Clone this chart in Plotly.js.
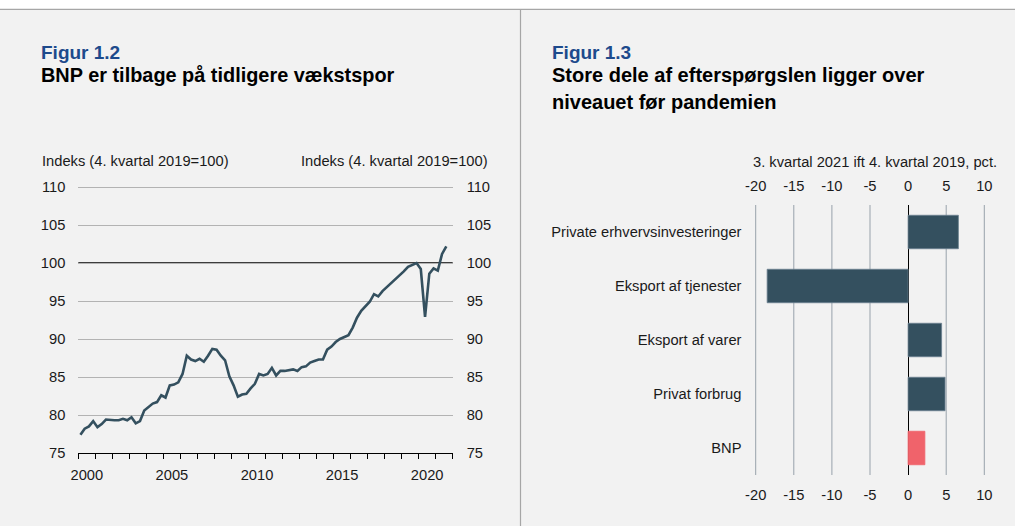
<!DOCTYPE html>
<html>
<head>
<meta charset="utf-8">
<script src="https://cdn.plot.ly/plotly-3.0.1.min.js"></script>
<style>
  html, body { margin: 0; padding: 0; background: #ffffff; }
  #chart { width: 1015px; height: 526px; }
</style>
</head>
<body>
<div id="chart"></div>
<script>
// Figur 1.2 - BNP, indeks (4. kvartal 2019=100), kvartaler 2000K1-2021K3
const startYear = 2000;
const bnp = [
  77.4, 78.2, 78.5, 79.2,   // 2000
  78.4, 78.8, 79.4, 79.3,   // 2001
  79.3, 79.3, 79.5, 79.3,   // 2002
  79.7, 78.9, 79.2, 80.6,   // 2003
  81.0, 81.5, 81.7, 82.6,   // 2004
  82.3, 83.9, 84.0, 84.3,   // 2005
  85.4, 87.8, 87.3, 87.1,   // 2006
  87.4, 87.0, 87.8, 88.7,   // 2007
  88.6, 87.8, 87.2, 85.1,   // 2008
  83.9, 82.4, 82.7, 82.8,   // 2009
  83.5, 84.1, 85.4, 85.2,   // 2010
  85.4, 86.2, 85.2, 85.8,   // 2011
  85.8, 85.9, 86.0, 85.8,   // 2012
  86.3, 86.4, 86.9, 87.1,   // 2013
  87.3, 87.3, 88.6, 89.0,   // 2014
  89.6, 90.0, 90.3, 90.5,   // 2015
  91.5, 92.8, 93.7, 94.3,   // 2016
  94.9, 95.9, 95.6, 96.3,   // 2017
  96.8, 97.3, 97.8, 98.3,   // 2018
  98.9, 99.5, 99.8, 100.0,  // 2019
  99.2, 92.9, 98.6, 99.3,   // 2020
  99.0, 101.2, 102.2        // 2021
];
const yearLabels = ['2000', '2005', '2010', '2015', '2020'];
const yTicks = [75, 80, 85, 90, 95, 100, 105, 110];

// Figur 1.3 - 3. kvartal 2021 ift 4. kvartal 2019, pct.
const categories = [
  'Private erhvervsinvesteringer',
  'Eksport af tjenester',
  'Eksport af varer',
  'Privat forbrug',
  'BNP'
];
const changes = [6.6, -18.5, 4.4, 4.85, 2.2];
const barTicks = [-20, -15, -10, -5, 0, 5, 10];
const barTickText = ['-20', '-15', '-10', '-5', '0', '5', '10'];

// quarter positions (middle of each quarter)
const quarterX = bnp.map((v, i) => startYear + Math.floor(i / 4) + ((i % 4) + 0.5) / 4);

const W = 1015, H = 526;
const px = x => x / W;
const py = y => 1 - y / H;

const dark = '#34505f';
const red = '#f0636b';
const font = 'Liberation Sans, Arial, sans-serif';
const bg = '#f2f2f2';
const fs = 14.7;

const lineTrace = {
  x: quarterX, y: bnp,
  type: 'scatter', mode: 'lines',
  line: { color: dark, width: 2.6 },
  xaxis: 'x', yaxis: 'y', hoverinfo: 'skip'
};
// invisible copies so the overlaying axes (right labels, year ticks, top labels) are drawn
const lineRight = {
  x: quarterX, y: bnp, type: 'scatter', mode: 'lines',
  line: { color: 'rgba(0,0,0,0)', width: 0 }, xaxis: 'x', yaxis: 'y3', hoverinfo: 'skip'
};
const lineYears = {
  x: quarterX, y: bnp, type: 'scatter', mode: 'lines',
  line: { color: 'rgba(0,0,0,0)', width: 0 }, xaxis: 'x4', yaxis: 'y', hoverinfo: 'skip'
};

const barTrace = {
  x: changes, y: categories,
  type: 'bar', orientation: 'h', width: 0.62,
  marker: {
    color: categories.map(c => c === 'BNP' ? red : dark),
    line: { color: categories.map(c => c === 'BNP' ? red : '#6c8190'), width: 0.8 }
  },
  xaxis: 'x2', yaxis: 'y2', hoverinfo: 'skip'
};
const barTop = {
  x: changes, y: categories, type: 'bar', orientation: 'h', width: 0.62,
  marker: { color: 'rgba(0,0,0,0)' }, xaxis: 'x3', yaxis: 'y2', hoverinfo: 'skip'
};

const tickFont = { family: font, size: fs, color: '#1a1a1a' };

const yTop = 110.15;
const barMin = -20.3, barMax = 10.3;
const pxPerPct = 7.62;
const barLeftPx = 755.7 + (barMin + 20) * pxPerPct;
const barRightPx = 984.3 + (barMax - 10) * pxPerPct;

// vertical gridlines of the bar chart, one per tick (0 gets the black zero line);
// drawn in paper coordinates from the same scale as the axis
const barGrid = barTicks.filter(v => v !== 0).map(v => {
  const xp = px(barLeftPx + (v - barMin) * (barRightPx - barLeftPx) / (barMax - barMin));
  return {
    type: 'line', xref: 'paper', yref: 'paper', x0: xp, x1: xp, y0: py(475), y1: py(205),
    line: { color: '#98a2ab', width: 1 }, layer: 'below'
  };
});

const layout = {
  width: W,
  height: H,
  margin: { l: 0, r: 0, t: 0, b: 0 },
  paper_bgcolor: bg,
  plot_bgcolor: 'rgba(0,0,0,0)',
  showlegend: false,
  barmode: 'overlay',
  font: { family: font, size: fs, color: '#1a1a1a' },

  // line chart
  xaxis: {
    domain: [px(78.3), px(452.7)],
    range: [2000, 2022],
    anchor: 'y',
    tickmode: 'array',
    tickvals: yearLabels.map(y => +y + 0.5),
    ticktext: yearLabels,
    ticks: 'outside',
    ticklen: 8,
    tickcolor: 'rgba(0,0,0,0)',
    showgrid: false,
    zeroline: false,
    showline: true,
    linecolor: '#000000',
    linewidth: 1,
    tickfont: tickFont,
    fixedrange: true
  },
  xaxis4: {
    overlaying: 'x',
    anchor: 'y',
    range: [2000, 2022],
    tickmode: 'linear',
    tick0: 2000,
    dtick: 1,
    ticks: 'outside',
    ticklen: 5,
    tickcolor: '#000000',
    showticklabels: false,
    showgrid: false,
    zeroline: false
  },
  yaxis: {
    domain: [py(453), py(187 - 0.15 * 7.6)],
    range: [75, yTop],
    anchor: 'x',
    tickmode: 'array',
    tickvals: yTicks,
    ticks: 'outside',
    ticklen: 9,
    tickcolor: 'rgba(0,0,0,0)',
    showgrid: true,
    gridcolor: '#b3b3b3',
    gridwidth: 1,
    zeroline: false,
    showline: false,
    tickfont: tickFont,
    fixedrange: true
  },
  yaxis3: {
    overlaying: 'y',
    side: 'right',
    anchor: 'x',
    range: [75, yTop],
    tickmode: 'array',
    tickvals: yTicks,
    ticks: 'outside',
    ticklen: 10,
    tickcolor: 'rgba(0,0,0,0)',
    showgrid: false,
    zeroline: false,
    tickfont: tickFont
  },

  // bar chart
  xaxis2: {
    domain: [px(barLeftPx), px(barRightPx)],
    range: [barMin, barMax],
    anchor: 'y2',
    tickmode: 'array',
    tickvals: barTicks,
    ticktext: barTickText,
    ticks: 'outside',
    ticklen: 6,
    tickcolor: 'rgba(0,0,0,0)',
    showgrid: false,
    zeroline: true,
    zerolinecolor: '#000000',
    zerolinewidth: 1,
    showline: false,
    tickfont: tickFont,
    fixedrange: true
  },
  xaxis3: {
    overlaying: 'x2',
    side: 'top',
    anchor: 'y2',
    range: [barMin, barMax],
    tickmode: 'array',
    tickvals: barTicks,
    ticktext: barTickText,
    ticks: 'outside',
    ticklen: 7,
    tickcolor: 'rgba(0,0,0,0)',
    showgrid: false,
    zeroline: false,
    tickfont: tickFont
  },
  yaxis2: {
    domain: [py(475), py(205)],
    anchor: 'x2',
    type: 'category',
    categoryorder: 'array',
    categoryarray: categories,
    range: [4.5, -0.5],
    ticks: 'outside',
    ticklen: 8,
    tickcolor: 'rgba(0,0,0,0)',
    showgrid: false,
    zeroline: false,
    showline: false,
    tickfont: tickFont,
    fixedrange: true
  },

  shapes: [
    // white strip and frame line at the top
    { type: 'rect', xref: 'paper', yref: 'paper', x0: 0, x1: 1, y0: py(9), y1: 1,
      fillcolor: '#ffffff', line: { width: 0 }, layer: 'below' },
    { type: 'line', xref: 'paper', yref: 'paper', x0: 0, x1: 1, y0: py(9.3), y1: py(9.3),
      line: { color: '#a6a6a6', width: 1.2 } },
    // divider between the two figures
    { type: 'line', xref: 'paper', yref: 'paper', x0: px(520.5), x1: px(520.5), y0: 0, y1: py(9.3),
      line: { color: '#a6a6a6', width: 1.2 } },
    // 100 reference line
    { type: 'line', xref: 'x domain', yref: 'y', x0: 0, x1: 1, y0: 100, y1: 100,
      line: { color: '#000000', width: 1.3 }, layer: 'below' }
  ].concat(barGrid),

  annotations: [
    { text: '<b>Figur 1.2</b>', xref: 'paper', yref: 'paper', x: px(38.5), y: py(52.5),
      xanchor: 'left', yanchor: 'middle', showarrow: false,
      font: { family: font, size: 19, color: '#1d4a8c' } },
    { text: '<b>BNP er tilbage på tidligere vækstspor</b>', xref: 'paper', yref: 'paper',
      x: px(38.5), y: py(74.5), xanchor: 'left', yanchor: 'middle', showarrow: false,
      font: { family: font, size: 19.9, color: '#000000' } },
    { text: 'Indeks (4. kvartal 2019=100)', xref: 'paper', yref: 'paper',
      x: px(40), y: py(161), xanchor: 'left', yanchor: 'middle', showarrow: false,
      font: tickFont },
    { text: 'Indeks (4. kvartal 2019=100)', xref: 'paper', yref: 'paper',
      x: px(489.5), y: py(161), xanchor: 'right', yanchor: 'middle', showarrow: false,
      font: tickFont },

    { text: '<b>Figur 1.3</b>', xref: 'paper', yref: 'paper', x: px(549.5), y: py(52.5),
      xanchor: 'left', yanchor: 'middle', showarrow: false,
      font: { family: font, size: 19, color: '#1d4a8c' } },
    { text: '<b>Store dele af efterspørgslen ligger over</b>', xref: 'paper', yref: 'paper',
      x: px(549.5), y: py(74.5), xanchor: 'left', yanchor: 'middle', showarrow: false,
      font: { family: font, size: 20, color: '#000000' } },
    { text: '<b>niveauet før pandemien</b>', xref: 'paper', yref: 'paper',
      x: px(549.5), y: py(102), xanchor: 'left', yanchor: 'middle', showarrow: false,
      font: { family: font, size: 20, color: '#000000' } },
    { text: '3. kvartal 2021 ift 4. kvartal 2019, pct.', xref: 'paper', yref: 'paper',
      x: px(998.5), y: py(162), xanchor: 'right', yanchor: 'middle', showarrow: false,
      font: tickFont }
  ]
};

Plotly.newPlot('chart', [lineTrace, lineRight, lineYears, barTrace, barTop], layout,
  { displayModeBar: false, staticPlot: true });
</script>
</body>
</html>
